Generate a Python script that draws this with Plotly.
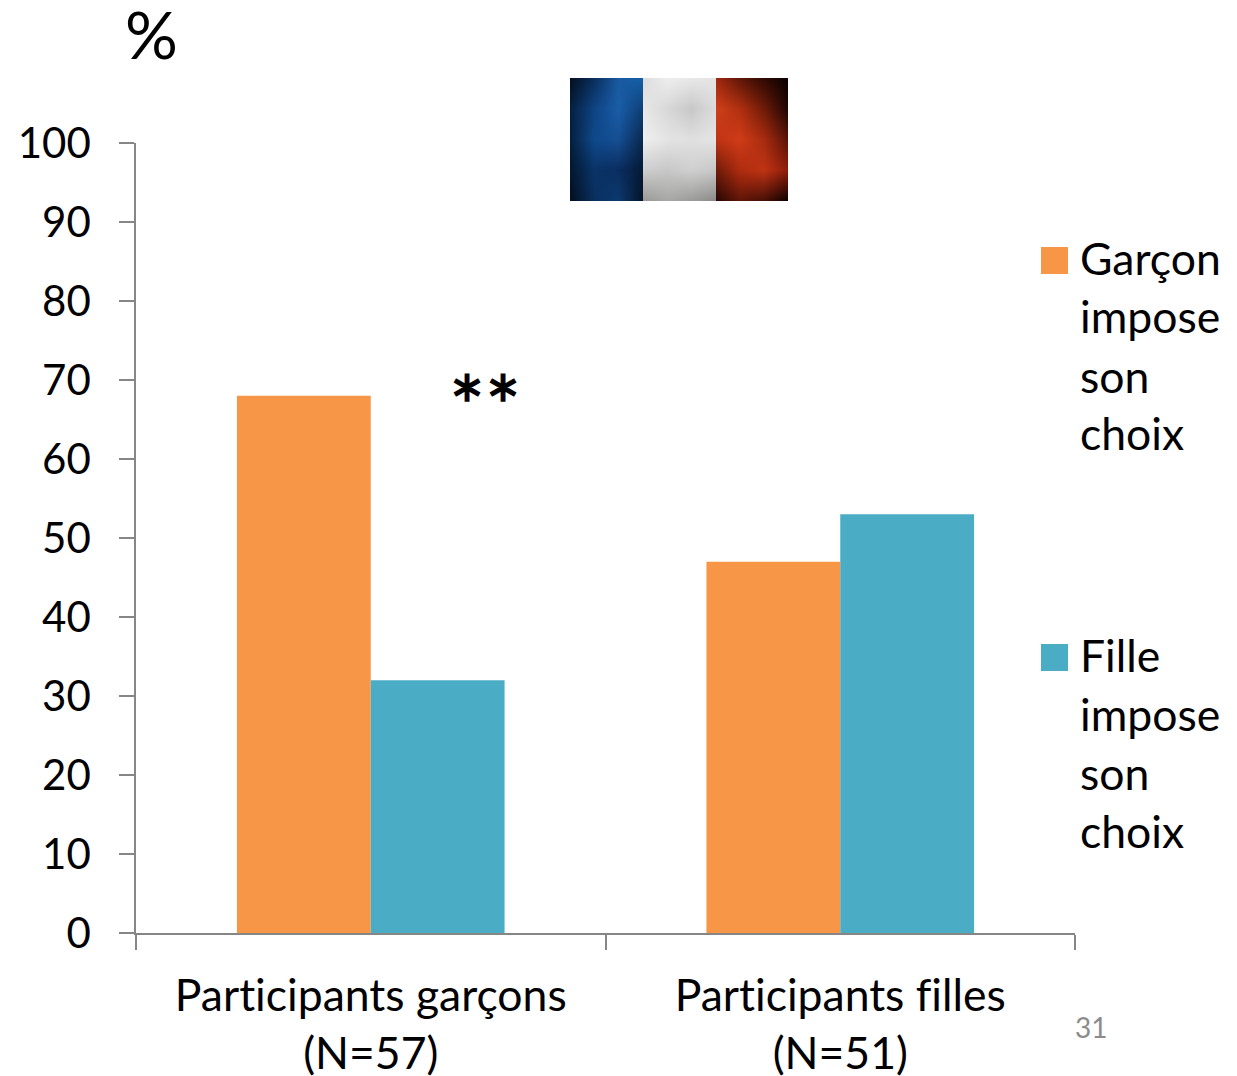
import base64
import struct
import zlib
import numpy as np
import plotly.graph_objects as go

categories = ["Participants garçons<br>(N=57)", "Participants filles<br>(N=51)"]
garcon_values = [68, 47]
fille_values = [32, 53]
y_ticks = list(range(0, 101, 10))
ORANGE = "#F79646"
BLUE = "#4BACC6"
FONT = "Lato, Carlito, sans-serif"
W, H = 1237, 1076

# Coarse colours of the worn flag picture (decoration only)
flag_blue = [["#04101f", "#0a2f5c", "#1a5aa0", "#1560a8"],
             ["#062040", "#0f4484", "#1a5ea8", "#0f3f78"],
             ["#05203f", "#0f4a8c", "#164f94", "#0a2a50"],
             ["#041830", "#0a3468", "#0a2e60", "#051a38"],
             ["#031020", "#0a3060", "#0c3a70", "#041428"]]
flag_white = [["#dcdcdc", "#eeeeee", "#e8e8e8", "#e4e4e4"],
              ["#e8e8e8", "#d8d8d8", "#c8c8c8", "#dcdcdc"],
              ["#efefef", "#e4e4e4", "#e0e0e0", "#e4e4e4"],
              ["#cfcfcf", "#c8c8c8", "#d0d0d0", "#c8c8c8"],
              ["#9a9a98", "#a8a8a6", "#9c9c9a", "#8c8c8a"]]
flag_red = [["#a02810", "#601808", "#300a04", "#0a0202"],
            ["#d0401a", "#b03010", "#701c08", "#200604"],
            ["#c03414", "#d03c18", "#a82c10", "#5a1408"],
            ["#701c0a", "#b02c10", "#c03414", "#901e0c"],
            ["#2a0804", "#601608", "#4a1006", "#100302"]]


def stripe(grid, w, h):
    arr = np.array([[[int(c[i:i + 2], 16) for i in (1, 3, 5)] for c in row] for row in grid], dtype=float)
    rows, cols = arr.shape[:2]
    ys = np.linspace(0, rows - 1, h)
    xs = np.linspace(0, cols - 1, w)
    y0 = np.clip(ys.astype(int), 0, rows - 2)
    x0 = np.clip(xs.astype(int), 0, cols - 2)
    wy = (ys - y0)[:, None, None]
    wx = (xs - x0)[None, :, None]
    a = arr[y0][:, x0]
    b = arr[y0][:, x0 + 1]
    c = arr[y0 + 1][:, x0]
    d = arr[y0 + 1][:, x0 + 1]
    return (a * (1 - wx) + b * wx) * (1 - wy) + (c * (1 - wx) + d * wx) * wy


def png_uri(img):
    h, w = img.shape[:2]
    raw = b"".join(b"\x00" + img[r].astype(np.uint8).tobytes() for r in range(h))
    def chunk(t, d):
        return struct.pack(">I", len(d)) + t + d + struct.pack(">I", zlib.crc32(t + d) & 0xffffffff)
    data = (b"\x89PNG\r\n\x1a\n" + chunk(b"IHDR", struct.pack(">IIBBBBB", w, h, 8, 2, 0, 0, 0))
            + chunk(b"IDAT", zlib.compress(raw)) + chunk(b"IEND", b""))
    return "data:image/png;base64," + base64.b64encode(data).decode()


flag = np.concatenate([stripe(flag_blue, 73, 123), stripe(flag_white, 73, 123), stripe(flag_red, 72, 123)], axis=1)

fig = go.Figure()
fig.add_bar(x=categories, y=garcon_values, name="Garçon impose son choix", marker_color=ORANGE,
            marker_line_width=0, showlegend=False)
fig.add_bar(x=categories, y=fille_values, name="Fille impose son choix", marker_color=BLUE,
            marker_line_width=0, showlegend=False)


def fx(x):
    return (x - 136) / 939


def fy(y):
    return (933 - y) / 790


ann = []


def text(x, y, s, size=44.5, color="#000000", anchor="left"):
    ann.append(dict(xref="paper", yref="paper", x=fx(x), y=fy(y), text=s, showarrow=False,
                    xanchor=anchor, yanchor="middle", align="left",
                    font=dict(family=FONT, size=size, color=color)))


text(123, 34, "%", size=66)
text(485, 384, "<b>∗∗</b>", size=43, anchor="center")
for y, s in zip([257, 316, 375, 433], ["Garçon", "impose", "son", "choix"]):
    text(1078, y, s)
for y, s in zip([654, 713, 772, 830], ["Fille", "impose", "son", "choix"]):
    text(1078, y, s)
text(1091, 1027, "31", size=28, color="#8C8C8C", anchor="center")

shapes = []


def rect(x0, y0, x1, y1, color):
    shapes.append(dict(type="rect", xref="paper", yref="paper", x0=fx(x0), x1=fx(x1),
                       y0=fy(y0), y1=fy(y1), fillcolor=color, line_width=0, layer="above"))


rect(1041, 247, 1068, 274, ORANGE)
rect(1041, 644, 1068, 671, BLUE)

fig.update_layout(
    width=W, height=H, barmode="group", bargap=0.43, bargroupgap=0,
    margin=dict(l=136, r=162, t=143, b=143, autoexpand=False),
    plot_bgcolor="white", paper_bgcolor="white",
    font=dict(family=FONT, size=42, color="#000000"),
    annotations=ann, shapes=shapes,
    images=[dict(source=png_uri(flag), xref="paper", yref="paper", x=fx(570), y=fy(78),
                 sizex=218 / 939, sizey=123 / 790, xanchor="left", yanchor="top",
                 sizing="stretch", layer="above")],
    xaxis=dict(type="category", tickson="boundaries", ticks="outside", ticklen=15, tickcolor="#868686",
               tickwidth=1.5, linecolor="#868686", linewidth=1.5, showline=True, showgrid=False,
               automargin=False, ticklabelstandoff=23, tickfont=dict(size=44.5, family=FONT)),
    yaxis=dict(range=[0, 100], tickvals=y_ticks, ticks="outside", ticklen=15, tickcolor="#868686",
               tickwidth=1.5, linecolor="#868686", linewidth=1.5, showline=True, showgrid=False,
               zeroline=False, automargin=False, ticklabelstandoff=20, tickfont=dict(size=42, family=FONT)),
)
post = ("document.body.style.margin='0';"
        "var s=document.createElement('style');"
        "s.textContent='svg text{font-variant-ligatures:none !important;"
        "font-feature-settings:\"liga\" 0,\"clig\" 0,\"dlig\" 0 !important;}';"
        "document.head.appendChild(s);")
fig.write_html("out.html", post_script=post, config=dict(displayModeBar=False))
